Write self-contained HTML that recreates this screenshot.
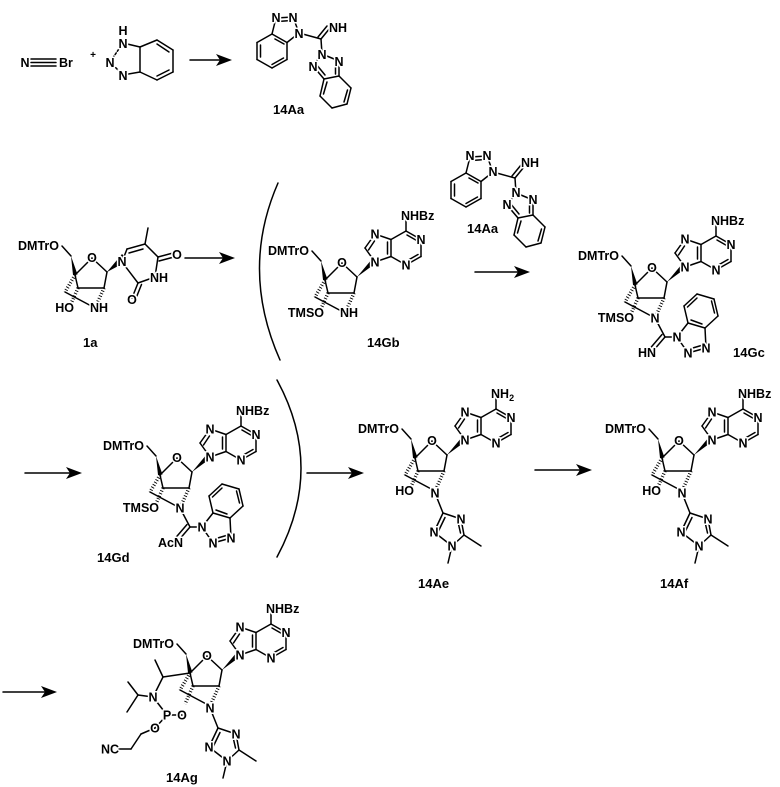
<!DOCTYPE html>
<html><head><meta charset="utf-8"><style>
html,body{margin:0;padding:0;background:#fff}
svg{display:block}
line,polyline,path{stroke:#000;stroke-width:1.5;fill:none;stroke-linecap:round}
polygon{fill:#000;stroke:none}
.h{stroke-width:3.5;stroke-dasharray:0.9 1.9;stroke-linecap:butt}
text{font-family:"Liberation Sans",Arial,sans-serif;font-size:12.5px;font-weight:bold;fill:#000;stroke:#fff;stroke-width:3;paint-order:stroke;stroke-linejoin:round}
.c{text-anchor:middle}
.e{text-anchor:end}
.lb{font-size:13px;stroke:none}
</style></head><body>
<svg width="780" height="787" viewBox="0 0 780 787" xmlns="http://www.w3.org/2000/svg">
<defs>
<g id="sug">
<line x1="44" y1="-4" x2="53" y2="6"/>
<polygon points="53,6 55,25 59.5,24.5"/>
<line x1="57" y1="25" x2="74" y2="8"/>
<line x1="74" y1="8" x2="89" y2="22"/>
<polygon points="89,22 104,4 108,8"/>
<line x1="89" y1="22" x2="86" y2="38"/>
<line x1="86" y1="38" x2="60" y2="38"/>
<line x1="60" y1="38" x2="57" y2="25"/>
<line class="h" x1="57" y1="25" x2="47" y2="42"/>
<line x1="47" y1="42" x2="77" y2="58"/>
<line class="h" x1="60" y1="38" x2="52" y2="56"/>
<line class="h" x1="86" y1="38" x2="78" y2="56"/>
</g>
<g id="ade">
<line x1="107" y1="7" x2="97" y2="-7"/>
<line x1="97" y1="-7" x2="107" y2="-21"/>
<line x1="100.5" y1="-5" x2="106.5" y2="-14"/>
<line x1="107" y1="-21" x2="123" y2="-15.5"/>
<line x1="123" y1="-15.5" x2="123" y2="1.5"/>
<line x1="119.5" y1="-13" x2="119.5" y2="-1"/>
<line x1="123" y1="1.5" x2="107" y2="7"/>
<line x1="123" y1="1.5" x2="138" y2="10"/>
<line x1="138" y1="10" x2="153" y2="1.5"/>
<line x1="139.5" y1="5.5" x2="150" y2="-0.5"/>
<line x1="153" y1="1.5" x2="153" y2="-15.5"/>
<line x1="153" y1="-15.5" x2="138" y2="-24"/>
<line x1="149.5" y1="-14" x2="139" y2="-20"/>
<line x1="138" y1="-24" x2="123" y2="-15.5"/>
<line x1="138" y1="-24" x2="138" y2="-35"/>
</g>
<g id="btam">
<line x1="77" y1="58" x2="87" y2="77"/>
<line x1="87" y1="77" x2="75" y2="91"/>
<line x1="84" y1="74.5" x2="72" y2="88.5"/>
<line x1="87" y1="77" x2="99" y2="77"/>
<line x1="99" y1="77" x2="110" y2="63"/>
<line x1="110" y1="63" x2="127" y2="68"/>
<line x1="127" y1="68" x2="128" y2="88"/>
<line x1="128" y1="88" x2="110" y2="93"/>
<line x1="125" y1="85" x2="113" y2="88.5"/>
<line x1="110" y1="93" x2="99" y2="77"/>
<line x1="127" y1="68" x2="140" y2="56"/>
<line x1="140" y1="56" x2="136" y2="39"/>
<line x1="136.5" y1="53" x2="133.5" y2="41"/>
<line x1="136" y1="39" x2="119" y2="34"/>
<line x1="119" y1="34" x2="106" y2="46"/>
<line x1="119" y1="38" x2="109.5" y2="47"/>
<line x1="106" y1="46" x2="110" y2="63"/>
<line x1="113" y1="60" x2="124" y2="64"/>
</g>
<g id="trz">
<line x1="77" y1="60" x2="85" y2="80"/>
<line x1="85" y1="80" x2="103" y2="86"/>
<line x1="103" y1="86" x2="106" y2="102"/>
<line x1="100" y1="89" x2="102.5" y2="100"/>
<line x1="106" y1="102" x2="94" y2="113"/>
<line x1="94" y1="113" x2="76" y2="99"/>
<line x1="76" y1="99" x2="85" y2="80"/>
<line x1="80" y1="99" x2="87" y2="84.5"/>
<line x1="106" y1="102" x2="123" y2="113"/>
<line x1="94" y1="113" x2="90" y2="130"/>
</g>
<g id="aa">
<line x1="466" y1="173" x2="481" y2="181.5"/>
<line x1="481" y1="181.5" x2="481" y2="198.5"/>
<line x1="481" y1="198.5" x2="466" y2="207"/>
<line x1="477.5" y1="197" x2="466" y2="203.5"/>
<line x1="466" y1="207" x2="451" y2="198.5"/>
<line x1="451" y1="198.5" x2="451" y2="181.5"/>
<line x1="454.5" y1="196" x2="454.5" y2="184"/>
<line x1="451" y1="181.5" x2="466" y2="173"/>
<line x1="469" y1="178" x2="478" y2="183"/>
<line x1="466" y1="173" x2="470" y2="157"/>
<line x1="470" y1="157" x2="487" y2="156"/>
<line x1="472" y1="160.5" x2="485" y2="159.5"/>
<line x1="487" y1="156" x2="493" y2="172"/>
<line x1="493" y1="172" x2="481" y2="181.5"/>
<line x1="493" y1="172" x2="515" y2="178"/>
<line x1="515" y1="178" x2="524" y2="167"/>
<line x1="512" y1="176" x2="521" y2="165"/>
<line x1="515" y1="178" x2="516" y2="193"/>
<line x1="516" y1="193" x2="533" y2="200"/>
<line x1="516" y1="193" x2="507" y2="205"/>
<line x1="507" y1="205" x2="518" y2="218"/>
<line x1="510" y1="203" x2="519" y2="214"/>
<line x1="533" y1="200" x2="533" y2="215"/>
<line x1="529.5" y1="202" x2="529.5" y2="213"/>
<line x1="518" y1="218" x2="533" y2="215"/>
<line x1="533" y1="215" x2="545" y2="227"/>
<line x1="545" y1="227" x2="541" y2="243"/>
<line x1="541.5" y1="229" x2="538" y2="241"/>
<line x1="541" y1="243" x2="526" y2="247"/>
<line x1="526" y1="247" x2="514" y2="235"/>
<line x1="514" y1="235" x2="518" y2="218"/>
<line x1="517.5" y1="233" x2="521" y2="221"/>
</g>
</defs>

<!-- top row -->
<text class="c" x="25" y="67">N</text>
<line x1="31" y1="59" x2="56" y2="59"/><line x1="31" y1="62.5" x2="56" y2="62.5"/><line x1="31" y1="66" x2="56" y2="66"/>
<text x="59" y="67">Br</text>
<text class="c" x="93" y="58" style="font-size:10px">+</text>
<line x1="123" y1="43" x2="140" y2="47"/>
<line x1="123" y1="43" x2="110" y2="62" style="stroke-dasharray:2 2"/>
<line x1="110" y1="62" x2="123" y2="75" style="stroke-dasharray:2 2"/>
<line x1="123" y1="75" x2="140" y2="72"/>
<line x1="140" y1="47" x2="140" y2="72"/>
<line x1="140" y1="47" x2="157" y2="40"/>
<line x1="157" y1="40" x2="173" y2="50"/>
<line x1="157" y1="44" x2="169" y2="52"/>
<line x1="173" y1="50" x2="173" y2="72"/>
<line x1="173" y1="72" x2="157" y2="80"/>
<line x1="169" y1="70" x2="157" y2="76"/>
<line x1="157" y1="80" x2="140" y2="72"/>
<text class="c" x="123" y="35">H</text>
<text class="c" x="123" y="48">N</text>
<text class="c" x="110" y="67">N</text>
<text class="c" x="123" y="80">N</text>
<line x1="190" y1="60" x2="222" y2="60"/><polygon points="232,60 216,54 220,60 216,66"/>

<g transform="translate(-194,-139)"><use href="#aa"/></g>
<text class="c" x="276" y="22">N</text><text class="c" x="293" y="22">N</text><text class="c" x="299" y="38">N</text>
<text x="329" y="32">NH</text><text class="c" x="322" y="59">N</text><text class="c" x="313" y="71">N</text><text class="c" x="339" y="66">N</text>
<text class="lb" x="273" y="114">14Aa</text>

<!-- row 2 -->
<g transform="translate(18,250)"><use href="#sug"/>
<polygon points="89,22 102,10 104,14"/>
<line x1="104" y1="12" x2="109" y2="-1"/>
<line x1="109" y1="-1" x2="127" y2="-6"/>
<line x1="111" y1="3" x2="125" y2="-1"/>
<line x1="127" y1="-6" x2="130" y2="-22"/>
<line x1="127" y1="-6" x2="140" y2="7"/>
<line x1="140" y1="7" x2="155" y2="3"/><line x1="141" y1="11" x2="156" y2="7"/>
<line x1="140" y1="7" x2="137" y2="27"/>
<line x1="137" y1="27" x2="120" y2="33"/>
<line x1="120" y1="33" x2="104" y2="12"/>
<line x1="120" y1="33" x2="114" y2="48"/><line x1="123.5" y1="34.5" x2="117.5" y2="49.5"/>
<text x="0" y="0">DMTrO</text><text class="c" x="74" y="12">O</text>
<text class="c" x="104" y="16">N</text><text class="c" x="159" y="9">O</text><text x="132" y="32">NH</text><text class="c" x="114" y="54">O</text>
<text class="e" x="56" y="62">HO</text><text x="72" y="62">NH</text>
<text class="lb" x="65" y="97">1a</text></g>
<line x1="185" y1="258" x2="225" y2="258"/><polygon points="235,258 219,252 223,258 219,264"/>
<path d="M278,183 Q240,270 280,360"/>

<g transform="translate(268,255)"><use href="#sug"/><use href="#ade"/>
<text x="0" y="0">DMTrO</text><text class="c" x="74" y="12">O</text>
<text class="c" x="107" y="11.5">N</text><text class="c" x="107" y="-16.5">N</text><text class="c" x="138" y="14.5">N</text><text class="c" x="153" y="-11">N</text>
<text x="133" y="-35">NHBz</text>
<text class="e" x="56" y="62">TMSO</text><text x="72" y="62">NH</text>
<text class="lb" x="99" y="92">14Gb</text></g>

<use href="#aa"/>
<text class="c" x="470" y="160">N</text><text class="c" x="487" y="160">N</text><text class="c" x="493" y="176">N</text>
<text x="521" y="167">NH</text><text class="c" x="516" y="197">N</text><text class="c" x="507" y="209">N</text><text class="c" x="533" y="204">N</text>
<text class="lb" x="467" y="233">14Aa</text>
<line x1="475" y1="272" x2="520" y2="272"/><polygon points="530,272 514,266 518,272 514,278"/>

<g transform="translate(578,260)"><use href="#sug"/><use href="#ade"/><use href="#btam"/>
<text x="0" y="0">DMTrO</text><text class="c" x="74" y="12">O</text>
<text class="c" x="107" y="11.5">N</text><text class="c" x="107" y="-16.5">N</text><text class="c" x="138" y="14.5">N</text><text class="c" x="153" y="-11">N</text>
<text x="133" y="-35">NHBz</text>
<text class="e" x="56" y="62">TMSO</text><text class="c" x="77" y="62.5">N</text>
<text class="e" x="78" y="97">HN</text><text class="c" x="99" y="81.5">N</text><text class="c" x="110" y="97.5">N</text><text class="c" x="128" y="92.5">N</text>
<text class="lb" x="155" y="97">14Gc</text></g>

<!-- row 3 -->
<line x1="25" y1="473" x2="72" y2="473"/><polygon points="82,473 66,467 70,473 66,479"/>
<g transform="translate(103,450)"><use href="#sug"/><use href="#ade"/><use href="#btam"/>
<text x="0" y="0">DMTrO</text><text class="c" x="74" y="12">O</text>
<text class="c" x="107" y="11.5">N</text><text class="c" x="107" y="-16.5">N</text><text class="c" x="138" y="14.5">N</text><text class="c" x="153" y="-11">N</text>
<text x="133" y="-35">NHBz</text>
<text class="e" x="56" y="62">TMSO</text><text class="c" x="77" y="62.5">N</text>
<text class="e" x="80" y="97">AcN</text><text class="c" x="99" y="81.5">N</text><text class="c" x="110" y="97.5">N</text><text class="c" x="128" y="92.5">N</text>
<text class="lb" x="-6" y="112">14Gd</text></g>
<path d="M277,380 Q325,468 277,557"/>
<line x1="307" y1="473" x2="354" y2="473"/><polygon points="364,473 348,467 352,473 348,479"/>

<g transform="translate(358,433)"><use href="#sug"/><use href="#ade"/><use href="#trz"/>
<text x="0" y="0">DMTrO</text><text class="c" x="74" y="12">O</text>
<text class="c" x="107" y="11.5">N</text><text class="c" x="107" y="-16.5">N</text><text class="c" x="138" y="14.5">N</text><text class="c" x="153" y="-11">N</text>
<text x="133" y="-35">NH<tspan dy="3" style="font-size:9px">2</tspan></text>
<text class="e" x="56" y="62">HO</text><text class="c" x="77" y="64.5">N</text>
<text class="c" x="103" y="90.5">N</text><text class="c" x="94" y="117.5">N</text><text class="c" x="76" y="103.5">N</text>
<text class="lb" x="60" y="155">14Ae</text></g>
<line x1="535" y1="470" x2="582" y2="470"/><polygon points="592,470 576,464 580,470 576,476"/>

<g transform="translate(605,433)"><use href="#sug"/><use href="#ade"/><use href="#trz"/>
<text x="0" y="0">DMTrO</text><text class="c" x="74" y="12">O</text>
<text class="c" x="107" y="11.5">N</text><text class="c" x="107" y="-16.5">N</text><text class="c" x="138" y="14.5">N</text><text class="c" x="153" y="-11">N</text>
<text x="133" y="-35">NHBz</text>
<text class="e" x="56" y="62">HO</text><text class="c" x="77" y="64.5">N</text>
<text class="c" x="103" y="90.5">N</text><text class="c" x="94" y="117.5">N</text><text class="c" x="76" y="103.5">N</text>
<text class="lb" x="55" y="155">14Af</text></g>

<!-- row 4 -->
<line x1="3" y1="692" x2="47" y2="692"/><polygon points="57,692 41,686 45,692 41,698"/>
<g transform="translate(133,648)"><use href="#sug"/><use href="#ade"/><use href="#trz"/>
<line x1="57" y1="25" x2="30" y2="29"/>
<line x1="30" y1="29" x2="22" y2="12"/>
<line x1="30" y1="29" x2="20" y2="49"/>
<line x1="20" y1="49" x2="5" y2="47"/>
<line x1="5" y1="47" x2="-5" y2="34"/>
<line x1="5" y1="47" x2="-6" y2="64"/>
<line x1="20" y1="49" x2="34" y2="67"/>
<line x1="34" y1="67" x2="49" y2="67"/>
<line x1="34" y1="67" x2="22" y2="80"/>
<line x1="22" y1="80" x2="8" y2="86"/>
<line x1="8" y1="86" x2="-2" y2="101"/>
<line x1="-2" y1="101" x2="-14" y2="101"/>
<text x="0" y="0">DMTrO</text><text class="c" x="74" y="12">O</text>
<text class="c" x="107" y="11.5">N</text><text class="c" x="107" y="-16.5">N</text><text class="c" x="138" y="14.5">N</text><text class="c" x="153" y="-11">N</text>
<text x="133" y="-35">NHBz</text>
<text class="c" x="20" y="53.5">N</text><text class="c" x="34" y="71.5">P</text><text class="c" x="49" y="71.5">O</text><text class="c" x="22" y="84.5">O</text>
<text class="e" x="-14" y="105.5">NC</text>
<text class="c" x="77" y="64.5">N</text>
<text class="c" x="103" y="90.5">N</text><text class="c" x="94" y="117.5">N</text><text class="c" x="76" y="103.5">N</text>
<text class="lb" x="33" y="134">14Ag</text></g>
</svg>
</body></html>
